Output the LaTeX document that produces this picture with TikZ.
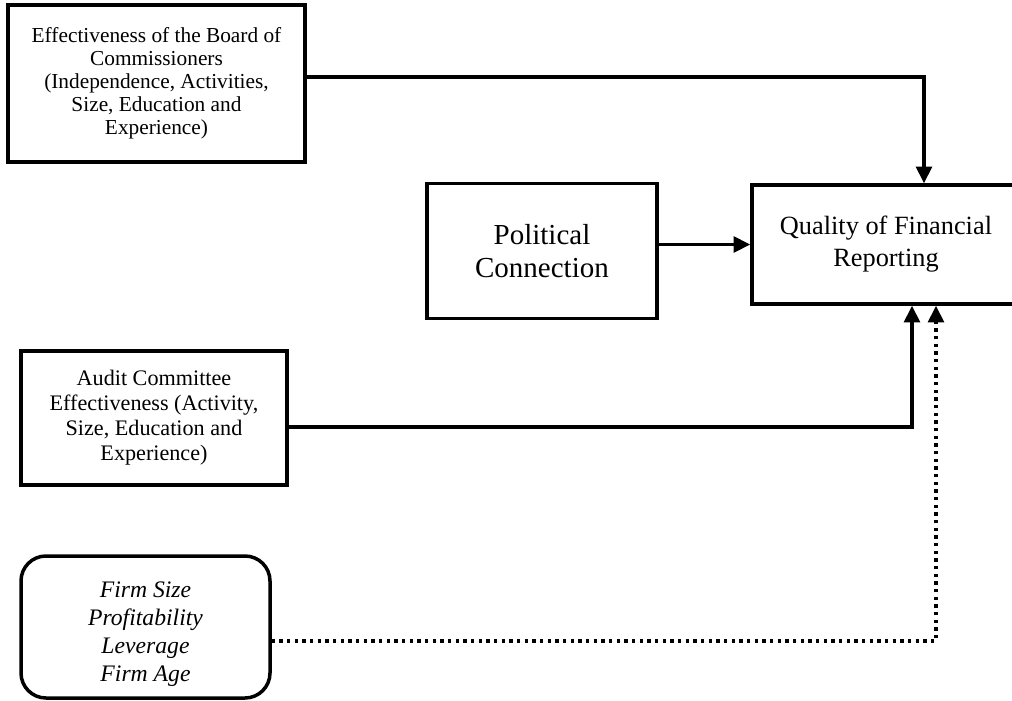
\documentclass[tikz,border=0pt]{standalone}
\usepackage{fontspec}
\setmainfont{Liberation Serif}
\usetikzlibrary{arrows.meta}

\begin{document}
\begin{tikzpicture}[x=0.6pt, y=-0.6pt,
    box/.style={draw, line width=2.1pt, inner sep=0pt, align=center},
    arr/.style={line width=2.1pt, -{Triangle[length=10pt,width=9.5pt]}},
    dotarr/.style={arr, dash pattern=on 2pt off 2.6pt}]
    \useasboundingbox (0,0) rectangle (1012,700);
    \node[box, minimum width=178.2pt, minimum height=94.2pt,
      font=\fontsize{12.8}{13.8}\selectfont] (A0_0) at (156.5,83.5)
      {Effectiveness of the Board of\\Commissioners\\(Independence, Activities,\\Size, Education and\\Experience)};
    \node[box, minimum width=138pt, minimum height=81pt,
      font=\fontsize{17.4}{19.8}\selectfont] (A1_1) at (542,251)
      {Political\\Connection};
    \node[box, minimum width=160.8pt, minimum height=71.4pt,
      font=\fontsize{15.8}{19.2}\selectfont] (A1_2) at (886,244.5)
      {Quality of Financial\\Reporting};
    \node[box, minimum width=159.6pt, minimum height=80.4pt,
      font=\fontsize{13.3}{15}\selectfont] (A2_0) at (154,418)
      {Audit Committee\\Effectiveness (Activity,\\Size, Education and\\Experience)};
    \node[box, rounded corners=15pt, minimum width=149.4pt, minimum height=85.2pt,
      font=\fontsize{14.2}{16.8}\selectfont\itshape] (A3_0) at (145.5,627)
      {\rule{0pt}{17.8pt}Firm Size\\Profitability\\Leverage\\Firm Age};
    \draw[arr] ([yshift=3.9pt]A0_0.east) -| ([xshift=22.8pt]A1_2.north);
    \draw[arr] (A1_1.east |- A1_2.west) -- (A1_2.west);
    \draw[arr] ([yshift=-5.4pt]A2_0.east) -| ([xshift=15.6pt]A1_2.south);
    \draw[dotarr] ([yshift=-8.4pt]A3_0.east) -| ([xshift=30pt]A1_2.south);
  \end{tikzpicture}
\end{document}
